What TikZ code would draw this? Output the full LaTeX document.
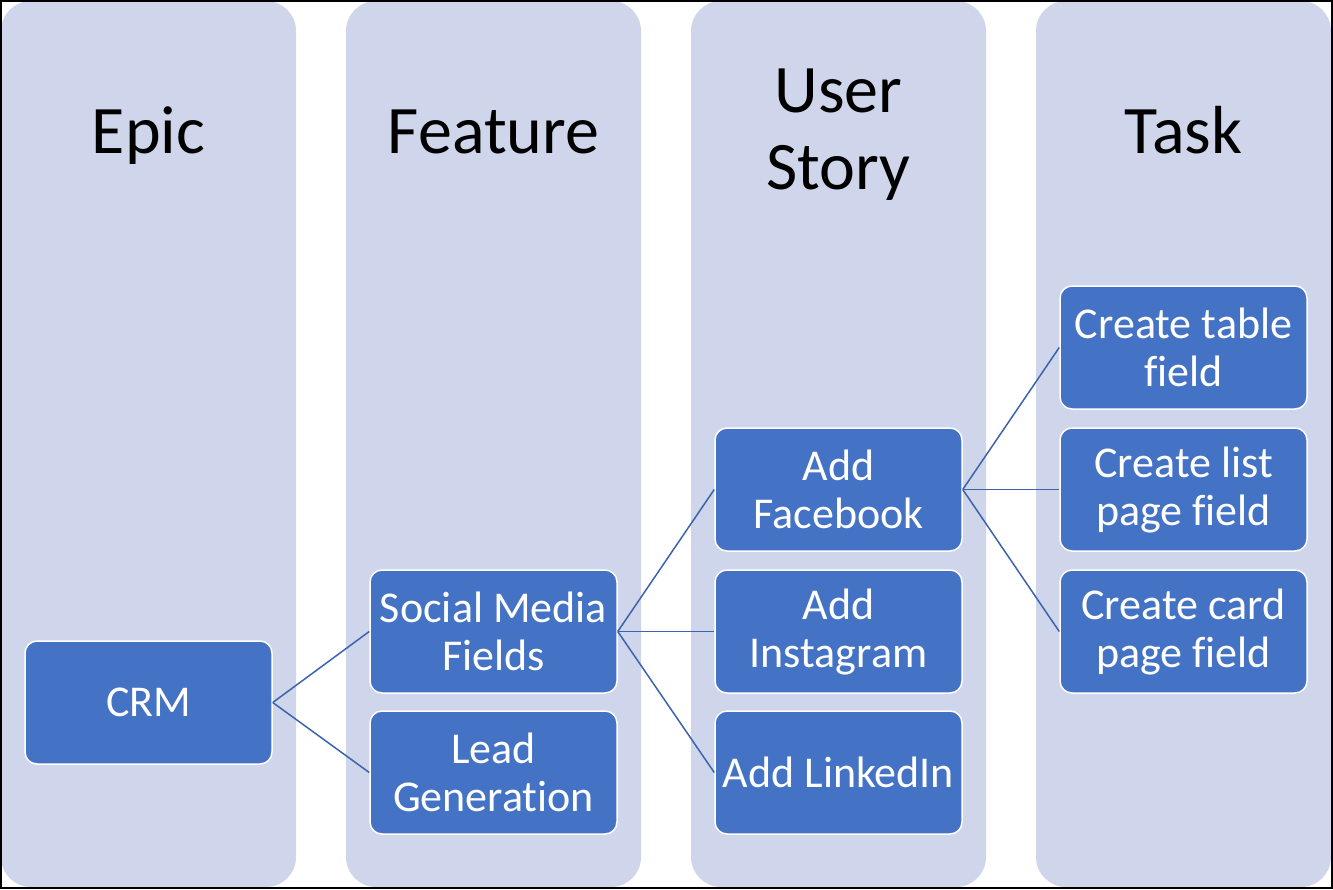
\documentclass[tikz,border=0pt]{standalone}
\usepackage{fontspec}
\setmainfont{Carlito}[Ligatures=NoCommon]
\definecolor{colbg}{HTML}{CFD5EA}
\definecolor{boxbg}{HTML}{4472C4}
\definecolor{conncol}{HTML}{3B64AD}
\begin{document}
\begin{tikzpicture}[x=1pt,y=-1pt,
  column/.style={fill=colbg,draw=none,rounded corners=30pt},
  header/.style={inner sep=0pt,align=center,font=\fontsize{68}{77}\selectfont,text=black},
  box/.style={draw=white,line width=1.5pt,fill=boxbg,rounded corners=12pt,
    minimum width=247pt,minimum height=123pt,inner sep=0pt,align=center,
    text=white,font=\fontsize{44}{48}\selectfont},
  conn/.style={draw=conncol,line width=1.5pt}]
\useasboundingbox (0,0) rectangle (1333,889);
\fill[white] (0,0) rectangle (1333,889);
% columns
\path[column] (1,1) rectangle (296,887);
\path[column] (346,1) rectangle (641,887);
\path[column] (691,1) rectangle (986,887);
\path[column] (1036,1) rectangle (1331,887);
% headers
\node[header,anchor=base] (hepic) at (148.5,153) {Epic};
\node[header,anchor=base] (hfeat) at (493.5,153) {Feature};
\node[header] (hstory) at (838.5,135) {User\\Story};
\node[header,anchor=base] (htask) at (1183.5,153) {Task};
% boxes
\node[box] (crm) at (148.5,702.5) {CRM};
\node[box] (smf) at (493.5,631.5) {Social Media\\Fields};
\node[box] (lead) at (493.5,772.5) {Lead\\Generation};
\node[box] (fb) at (838.5,489.5) {Add\\Facebook};
\node[box] (ig) at (838.5,631.5) {Add\\Instagram};
\node[box] (li) at (838.5,772.5) {Add LinkedIn};
\node[box] (t1) at (1183.5,347.5) {Create table\\field};
\node[box] (t2) at (1183.5,489.5) {Create list\\page field};
\node[box] (t3) at (1183.5,631.5) {Create card\\page field};
% connectors
\draw[conn] (crm.east) -- (smf.west);
\draw[conn] (crm.east) -- (lead.west);
\draw[conn] (smf.east) -- (fb.west);
\draw[conn] (smf.east) -- (ig.west);
\draw[conn] (smf.east) -- (li.west);
\draw[conn] (fb.east) -- (t1.west);
\draw[conn] (fb.east) -- (t2.west);
\draw[conn] (fb.east) -- (t3.west);
% outer border
\draw[black,line width=2pt] (1,1) rectangle (1332,888);
\end{tikzpicture}
\end{document}
